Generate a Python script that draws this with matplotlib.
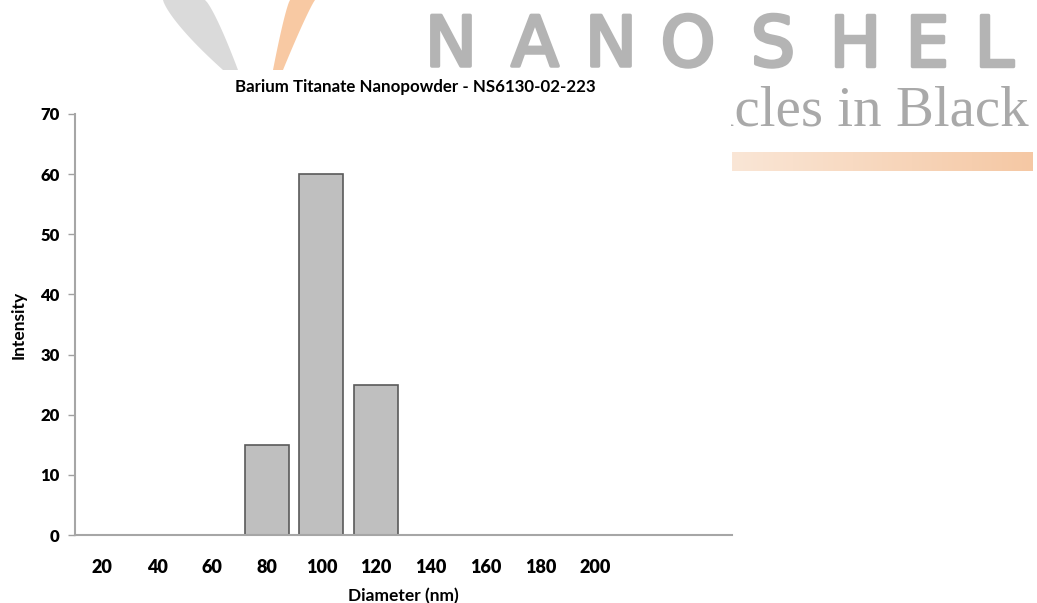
import matplotlib.pyplot as plt
import matplotlib.patheffects as pe
import numpy as np
from matplotlib.patches import Rectangle, Polygon
from matplotlib.colors import LinearSegmentedColormap

# size distribution data
diameters = [20, 40, 60, 80, 100, 120, 140, 160, 180, 200, 220, 240]
intensity = [0, 0, 0, 15, 60, 25, 0, 0, 0, 0, 0, 0]
tick_labels = ['20', '40', '60', '80', '100', '120', '140', '160', '180', '200', '', '']
y_ticks = [0, 10, 20, 30, 40, 50, 60, 70]

title = 'Barium Titanate Nanopowder - NS6130-02-223'
logo_letters = ['N', 'A', 'N', 'O', 'S', 'H', 'E', 'L']
logo_x = [451, 535, 611, 688, 773, 855, 927, 994]

W, H = 1037, 603
plt.rcParams['font.family'] = ['Lato', 'DejaVu Sans']

fig = plt.figure(figsize=(W / 100, H / 100), dpi=100)

def px(x, y):
    return x / W, 1 - y / H

# logo in the background
grey_logo = '#b4b4b4'
for ch, xx in zip(logo_letters, logo_x):
    fig.text(*px(xx, 66), ch, ha='center', va='baseline', fontsize=50,
             color=grey_logo, family='DejaVu Sans', zorder=-3,
             path_effects=[pe.withStroke(linewidth=2.5, foreground=grey_logo)])
fig.text(*px(1029, 125), 'Particles in Black', ha='right', va='baseline',
         fontsize=41, color='#a9a9a9', family='Liberation Serif', zorder=-3)

# curved swooshes at top left
t = np.linspace(0, 1, 30)
gl = [px(163 + 60 * s ** 1.3, 70 * s) for s in t]
gr = [px(205 + 33 * s ** 0.8, 70 * s) for s in t]
fig.patches.append(Polygon(gl + gr[::-1], closed=True, transform=fig.transFigure,
                           facecolor='#dadada', edgecolor='none', zorder=-3))
ol = [px(290 - 17 * s ** 0.8, 70 * s) for s in t]
orr = [px(315 - 32 * s ** 0.9, 70 * s) for s in t]
fig.patches.append(Polygon(ol + orr[::-1], closed=True, transform=fig.transFigure,
                           facecolor='#f8c9a3', edgecolor='none', zorder=-3))

# gradient bar under the tagline
grad = LinearSegmentedColormap.from_list('bar', ['#fae6d6', '#f5c8a4'])
bar_ax = fig.add_axes([732 / W, 1 - 171 / H, 301 / W, 19 / H], zorder=-3)
bar_ax.imshow(np.linspace(0, 1, 256)[None, :], aspect='auto', cmap=grad)
bar_ax.axis('off')

# white chart area covering part of the logo
fig.patches.append(Rectangle(px(0, H), 731 / W, 1 - 70 / H, transform=fig.transFigure,
                             facecolor='white', edgecolor='none', zorder=-2))

ax = fig.add_axes([75 / W, 1 - 535 / H, 657 / W, 421 / H], zorder=1)
ax.patch.set_alpha(0)

x = np.arange(len(diameters))
ax.bar(x, intensity, width=0.8, color='#bfbfbf', edgecolor='#5a5a5a', linewidth=1.2)

ax.set_xlim(-0.5, len(diameters) - 0.5)
ax.set_ylim(0, 70)
ax.set_xticks(x)
ax.set_xticklabels(tick_labels, fontsize=13, fontweight='heavy')
ax.set_yticks(y_ticks)
ax.set_yticklabels([str(v) for v in y_ticks], fontsize=12, fontweight='heavy')
ax.tick_params(axis='x', length=0, pad=17)
ax.tick_params(axis='y', length=5, color='#a0a0a0', width=1, pad=6)

for side in ['top', 'right']:
    ax.spines[side].set_visible(False)
for side in ['left', 'bottom']:
    ax.spines[side].set_color('#a6a6a6')
    ax.spines[side].set_linewidth(1.5)

ax.set_xlabel('Diameter (nm)', fontsize=12.5, fontweight='bold', labelpad=9)
ax.set_ylabel('Intensity', fontsize=12.5, fontweight='bold', labelpad=10)
fig.text(*px(415, 87), title, ha='center', va='center', fontsize=12.2, fontweight='bold')

fig.savefig('out.png', dpi=100, facecolor='white')
